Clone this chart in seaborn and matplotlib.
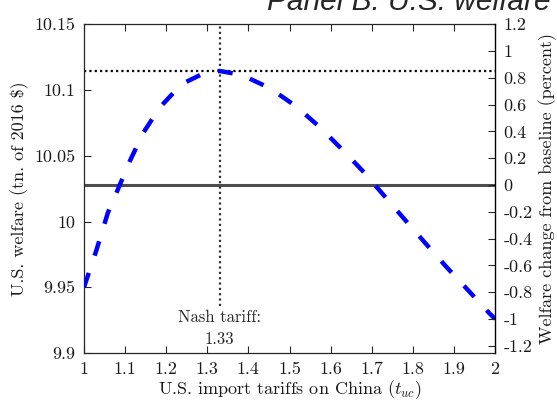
import numpy as np
import pandas as pd
import matplotlib
matplotlib.use("Agg")
import matplotlib.pyplot as plt
import seaborn as sns

# U.S. welfare (tn. of 2016 $) against the U.S. import tariff on China
tariff = [1.000, 1.030, 1.058, 1.080, 1.111, 1.144, 1.185, 1.238, 1.290, 1.330,
          1.384, 1.453, 1.517, 1.574, 1.629, 1.682, 1.732, 1.781, 1.832,
          1.882, 1.935, 1.987, 2.000]
welfare = [9.950, 9.978, 10.0066, 10.0226, 10.0456, 10.0674, 10.0870, 10.1046,
           10.1125, 10.1145, 10.1115, 10.1013, 10.0874, 10.0717, 10.0545,
           10.0372, 10.0190, 10.0013, 9.9830, 9.9654, 9.9476, 9.9300, 9.9260]

baseline_welfare = 10.0279
nash_tariff = 1.33
nash_welfare = 10.1145

x_ticks = [1, 1.1, 1.2, 1.3, 1.4, 1.5, 1.6, 1.7, 1.8, 1.9, 2]
x_tick_labels = ["1", "1.1", "1.2", "1.3", "1.4", "1.5", "1.6", "1.7", "1.8", "1.9", "2"]
left_ticks = [9.9, 9.95, 10, 10.05, 10.1, 10.15]
left_tick_labels = ["9.9", "9.95", "10", "10.05", "10.1", "10.15"]
right_ticks = [-1.2, -1, -0.8, -0.6, -0.4, -0.2, 0, 0.2, 0.4, 0.6, 0.8, 1, 1.2]
right_tick_labels = ["-1.2", "-1", "-0.8", "-0.6", "-0.4", "-0.2", "0",
                     "0.2", "0.4", "0.6", "0.8", "1", "1.2"]

sns.set_style("ticks")
plt.rcParams["font.family"] = ["cmr10", "DejaVu Serif"]
plt.rcParams["mathtext.fontset"] = "cm"
plt.rcParams["axes.unicode_minus"] = False
plt.rcParams["axes.formatter.use_mathtext"] = True

df = pd.DataFrame({"tariff": tariff, "welfare": welfare})

fig = plt.figure(figsize=(5.57, 4.04), dpi=100)
ax = fig.add_axes([84 / 557, 1 - 353 / 404, (495 - 84) / 557, (353 - 24.3) / 404])

axis_col = "#262626"
tick_fs = 13

# baseline and Nash reference lines
ax.axhline(baseline_welfare, color="#4d4d4d", lw=2.2, zorder=2)
ax.axhline(nash_welfare, color="black", lw=1.6, linestyle=(0, (1, 1.4)), zorder=2)
ax.plot([nash_tariff, nash_tariff], [9.936, 10.15], color="#333333", lw=1.6,
        linestyle=(0, (1, 1.4)), zorder=2)

sns.lineplot(data=df, x="tariff", y="welfare", ax=ax, color="#0000ff", lw=3.2,
             zorder=3)
ax.lines[-1].set_dashes([3.4, 4.1])

ax.text(nash_tariff, 9.9185, "Nash tariff:\n1.33", ha="center", va="center",
        fontsize=12, linespacing=1.55)

ax.set_xlim(1, 2)
ax.set_ylim(9.9, 10.15)
ax.set_xticks(x_ticks)
ax.set_xticklabels(x_tick_labels)
ax.set_yticks(left_ticks)
ax.set_yticklabels(left_tick_labels)
ax.tick_params(axis="x", direction="in", top=True, length=5, width=0.8,
               color=axis_col, labelsize=tick_fs, pad=6, labelcolor="#1a1a1a")
ax.tick_params(axis="y", direction="in", left=True, right=False, length=5,
               width=0.8, color=axis_col, labelsize=tick_fs, pad=6,
               labelcolor="#1a1a1a")
for side in ["left", "bottom", "top"]:
    ax.spines[side].set_color(axis_col)
    ax.spines[side].set_linewidth(0.9)
ax.spines["right"].set_visible(False)

ax.set_xlabel(r"U.S. import tariffs on China ($t_{uc}$)", fontsize=13,
              labelpad=1, color="#1a1a1a")
ax.set_ylabel("U.S. welfare (tn. of 2016 \\$)", fontsize=13, labelpad=4,
              color="#1a1a1a")

# percent change from baseline on the right-hand axis
ax2 = ax.twinx()
ax2.set_ylim(-1.254, 1.2)
ax2.set_yticks(right_ticks)
ax2.set_yticklabels(right_tick_labels)
ax2.tick_params(axis="y", direction="in", length=5, width=0.8, color=axis_col,
                labelsize=tick_fs, pad=6, labelcolor="#1a1a1a")
for side in ["left", "bottom", "top"]:
    ax2.spines[side].set_visible(False)
ax2.spines["right"].set_color("black")
ax2.spines["right"].set_linewidth(1.0)
ax2.set_ylabel("Welfare change from baseline (percent)", fontsize=13,
               labelpad=4, color="#1a1a1a")

fig.text(551 / 557, 1 - 10 / 404, "Panel B: U.S. welfare", ha="right",
         va="baseline", fontsize=21.5, style="italic",
         family=["Liberation Sans", "DejaVu Sans"])

fig.savefig("out.png", dpi=100)
